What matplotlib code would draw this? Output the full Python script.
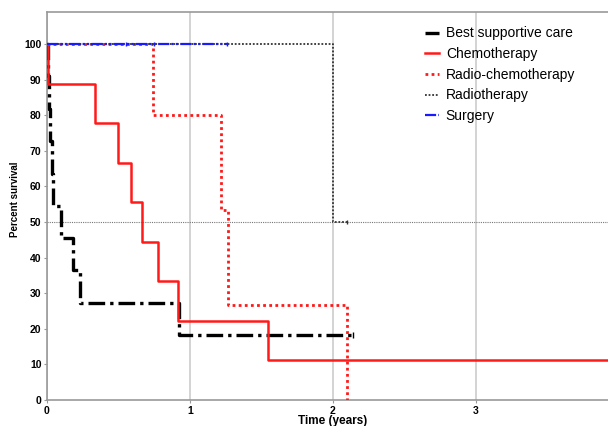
import matplotlib
matplotlib.use("Agg")
import matplotlib.pyplot as plt

plt.rcParams["font.family"] = ["Liberation Sans", "DejaVu Sans"]

# Kaplan-Meier step data (time in years, percent survival)
bsc_t = [0, 0.01, 0.015, 0.02, 0.035, 0.045, 0.098, 0.18, 0.23, 0.925, 2.14]
bsc_s = [100, 90.9, 81.8, 72.7, 63.6, 54.5, 45.5, 36.4, 27.3, 18.2, 18.2]

chemo_t = [0, 0.01, 0.336, 0.497, 0.59, 0.662, 0.778, 0.918, 1.548, 4.0]
chemo_s = [100, 88.9, 77.8, 66.7, 55.6, 44.4, 33.3, 22.2, 11.1, 11.1]

radchemo_t = [0, 0.743, 1.215, 1.268, 2.096, 2.096]
radchemo_s = [100, 80.0, 53.3, 26.7, 0.0, 0.0]

radio_t = [0, 2.0, 2.10]
radio_s = [100, 50.0, 50.0]

surg_t = [0, 1.26]
surg_s = [100, 100]

censor_bsc = [2.14]
censor_radio = [2.10]
censor_surg = [0.55, 0.75, 1.26]

median_level = 50
x_ticks = [0, 1, 2, 3]
y_ticks = [0, 10, 20, 30, 40, 50, 60, 70, 80, 90, 100]

fig = plt.figure(figsize=(6.08, 4.26), dpi=100)
ax = fig.add_axes([47 / 608, 1 - 400 / 426, 572 / 608, 388 / 426])

ax.axhline(median_level, color="#777777", linestyle=(0, (1, 1)), linewidth=0.8, zorder=1)

ax.step(bsc_t, bsc_s, where="post", color="black", linestyle=(0, (5, 1.5, 1, 1.5)),
        linewidth=2.4, label="Best supportive care", zorder=3)
ax.step(chemo_t, chemo_s, where="post", color="#ff1a1a", linestyle="-",
        linewidth=1.8, label="Chemotherapy", zorder=3)
ax.step(radchemo_t, radchemo_s, where="post", color="#ff1a1a", linestyle=(0, (1, 1.2)),
        linewidth=2.0, label="Radio-chemotherapy", zorder=3)
ax.step(radio_t, radio_s, where="post", color="#333333", linestyle=(0, (1, 1)),
        linewidth=1.3, label="Radiotherapy", zorder=3)
ax.step(surg_t, surg_s, where="post", color="#1a1aff", linestyle=(0, (5, 1, 1, 1, 1, 1)),
        linewidth=1.6, label="Surgery", zorder=4)

ax.plot(censor_bsc, [18.2] * len(censor_bsc), linestyle="none", marker="|",
        color="black", markersize=4, zorder=4)
ax.plot(censor_radio, [50] * len(censor_radio), linestyle="none", marker="|",
        color="#333333", markersize=3, zorder=4)
ax.plot(censor_surg, [100] * len(censor_surg), linestyle="none", marker="|",
        color="#1a1aff", markersize=3, zorder=4)

ax.set_xlim(0, 4)
ax.set_ylim(0, 109)
ax.set_xticks(x_ticks)
ax.set_yticks(y_ticks)
ax.tick_params(axis="both", labelsize=7.5, length=2, color="#999999", pad=2)
for lab in ax.get_xticklabels() + ax.get_yticklabels():
    lab.set_fontweight("bold")

ax.grid(axis="x", color="#cccccc", linewidth=1.2)
ax.set_axisbelow(True)
for side in ["left", "top", "bottom", "right"]:
    ax.spines[side].set_color("#999999")
    ax.spines[side].set_linewidth(1.2)

ax.set_xlabel("Time (years)", fontsize=8.5, fontweight="bold")
ax.xaxis.set_label_coords(0.5, -15 / 388)
ax.set_ylabel("Percent survival", fontsize=7, fontweight="bold")
ax.yaxis.set_label_coords(-27 / 572, 0.518)

ax.legend(loc="upper left", bbox_to_anchor=(0.651, 0.977), frameon=False, fontsize=10,
          handlelength=1.0, handletextpad=0.5, labelspacing=0.48, borderaxespad=0)

fig.savefig("out.png", dpi=100)
